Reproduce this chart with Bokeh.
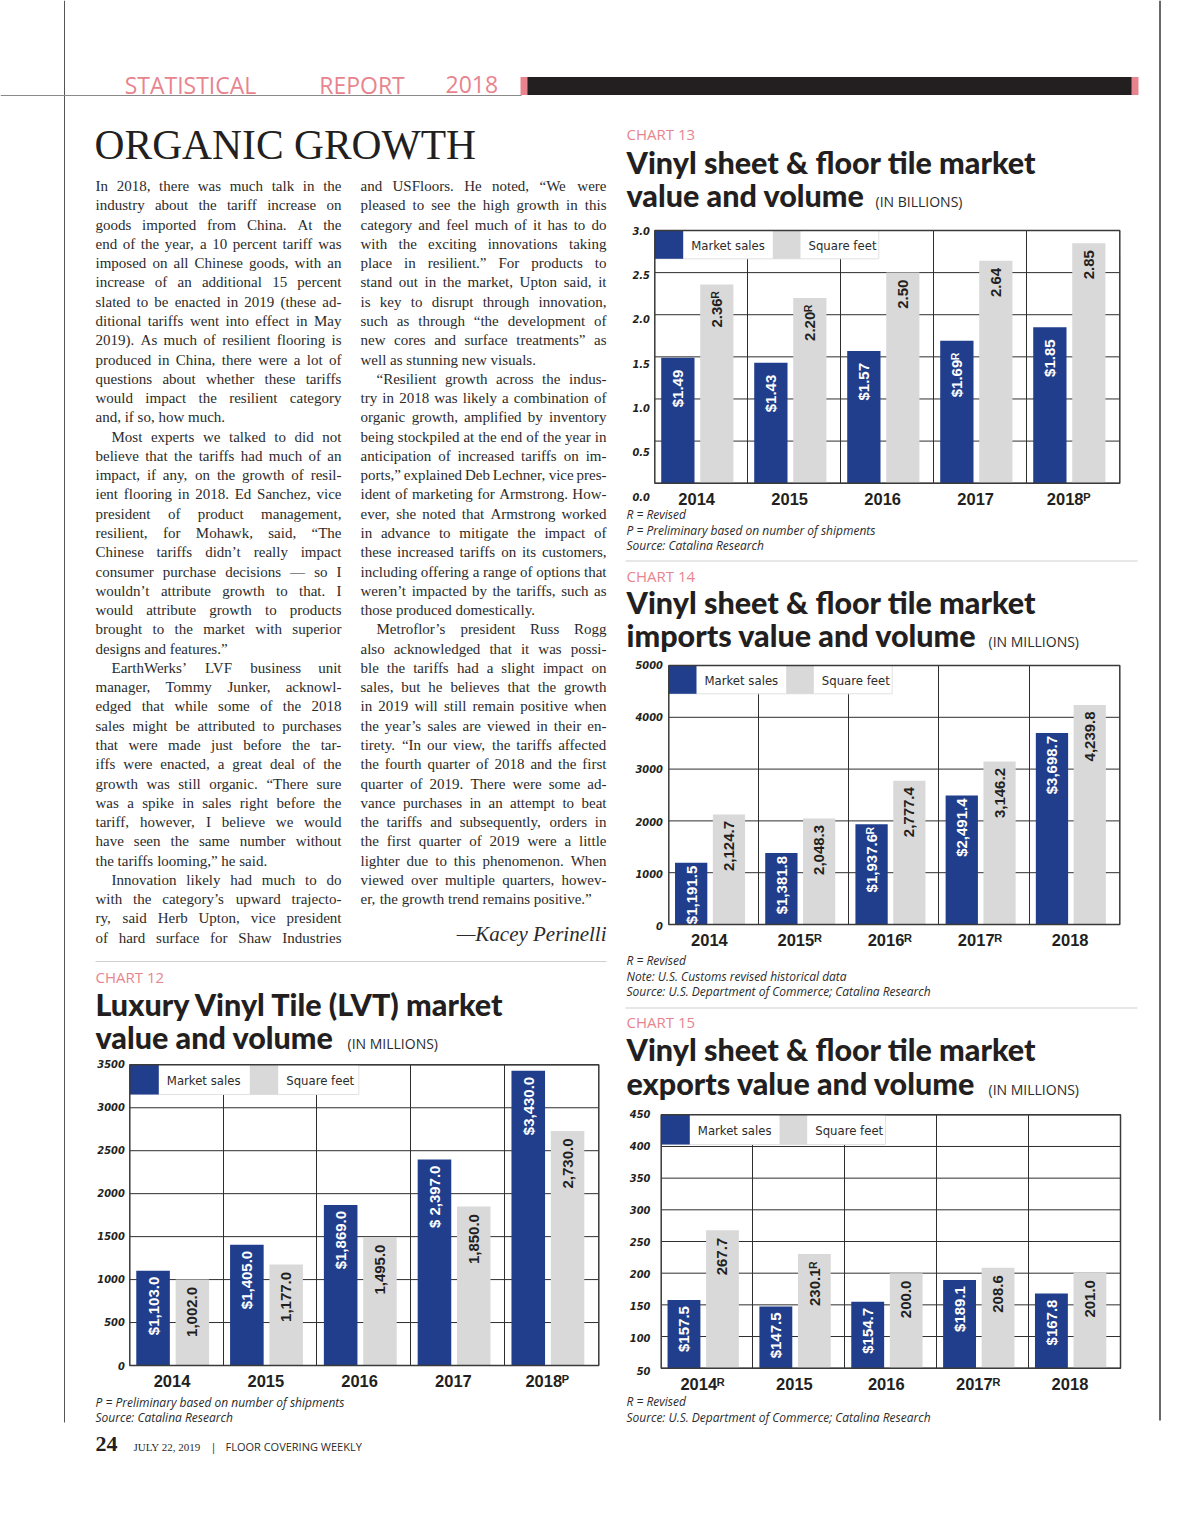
import numpy as np
from bokeh.plotting import figure
from bokeh.models import Range1d, ColumnDataSource
from bokeh.core.properties import value
from bokeh.embed import file_html
from bokeh.resources import INLINE

# ---------------------------------------------------------------- data
years12 = ["2014", "2015", "2016", "2017", "2018\u1d3e"]
sales12 = [1103.0, 1405.0, 1869.0, 2397.0, 3430.0]
sqft12 = [1002.0, 1177.0, 1495.0, 1850.0, 2730.0]
sales12_lbl = ["$1,103.0", "$1,405.0", "$1,869.0", "$ 2,397.0", "$3,430.0"]
sqft12_lbl = ["1,002.0", "1,177.0", "1,495.0", "1,850.0", "2,730.0"]
ticks12 = [0, 500, 1000, 1500, 2000, 2500, 3000, 3500]
ticks12_lbl = ["0", "500", "1000", "1500", "2000", "2500", "3000", "3500"]

years13 = ["2014", "2015", "2016", "2017", "2018\u1d3e"]
sales13 = [1.49, 1.43, 1.57, 1.69, 1.85]
sqft13 = [2.36, 2.20, 2.50, 2.64, 2.85]
sales13_lbl = ["$1.49", "$1.43", "$1.57", "$1.69\u1d3f", "$1.85"]
sqft13_lbl = ["2.36\u1d3f", "2.20\u1d3f", "2.50", "2.64", "2.85"]
ticks13 = [0.0, 0.5, 1.0, 1.5, 2.0, 2.5, 3.0]
ticks13_lbl = ["0.0", "0.5", "1.0", "1.5", "2.0", "2.5", "3.0"]

years14 = ["2014", "2015\u1d3f", "2016\u1d3f", "2017\u1d3f", "2018"]
sales14 = [1191.5, 1381.8, 1937.6, 2491.4, 3698.7]
sqft14 = [2124.7, 2048.3, 2777.4, 3146.2, 4239.8]
sales14_lbl = ["$1,191.5", "$1,381.8", "$1,937.6\u1d3f", "$2,491.4", "$3,698.7"]
sqft14_lbl = ["2,124.7", "2,048.3", "2,777.4", "3,146.2", "4,239.8"]
ticks14 = [0, 1000, 2000, 3000, 4000, 5000]
ticks14_lbl = ["0", "1000", "2000", "3000", "4000", "5000"]

years15 = ["2014\u1d3f", "2015", "2016", "2017\u1d3f", "2018"]
sales15 = [157.5, 147.5, 154.7, 189.1, 167.8]
sqft15 = [267.7, 230.1, 200.0, 208.6, 201.0]
sales15_lbl = ["$157.5", "$147.5", "$154.7", "$189.1", "$167.8"]
sqft15_lbl = ["267.7", "230.1\u1d3f", "200.0", "208.6", "201.0"]
ticks15 = [50, 100, 150, 200, 250, 300, 350, 400, 450]
ticks15_lbl = ["50", "100", "150", "200", "250", "300", "350", "400", "450"]

legend_labels = ["Market sales", "Square feet"]

col1_lines = [
    "In 2018, there was much talk in the",
    "industry about the tariff increase on",
    "goods imported from China. At the",
    "end of the year, a 10 percent tariff was",
    "imposed on all Chinese goods, with an",
    "increase of an additional 15 percent",
    "slated to be enacted in 2019 (these ad-",
    "ditional tariffs went into effect in May",
    "2019). As much of resilient flooring is",
    "produced in China, there were a lot of",
    "questions about whether these tariffs",
    "would impact the resilient category",
    "and, if so, how much.",
    "Most experts we talked to did not",
    "believe that the tariffs had much of an",
    "impact, if any, on the growth of resil-",
    "ient flooring in 2018. Ed Sanchez, vice",
    "president of product management,",
    "resilient, for Mohawk, said, \u201cThe",
    "Chinese tariffs didn\u2019t really impact",
    "consumer purchase decisions \u2014 so I",
    "wouldn\u2019t attribute growth to that. I",
    "would attribute growth to products",
    "brought to the market with superior",
    "designs and features.\u201d",
    "EarthWerks\u2019 LVF business unit",
    "manager, Tommy Junker, acknowl-",
    "edged that while some of the 2018",
    "sales might be attributed to purchases",
    "that were made just before the tar-",
    "iffs were enacted, a great deal of the",
    "growth was still organic. \u201cThere sure",
    "was a spike in sales right before the",
    "tariff, however, I believe we would",
    "have seen the same number without",
    "the tariffs looming,\u201d he said.",
    "Innovation likely had much to do",
    "with the category\u2019s upward trajecto-",
    "ry, said Herb Upton, vice president",
    "of hard surface for Shaw Industries",
]
col1_indent = {14, 26, 37}
col1_last = {13, 25, 36}

col2_lines = [
    "and USFloors. He noted, \u201cWe were",
    "pleased to see the high growth in this",
    "category and feel much of it has to do",
    "with the exciting innovations taking",
    "place in resilient.\u201d For products to",
    "stand out in the market, Upton said, it",
    "is key to disrupt through innovation,",
    "such as through \u201cthe development of",
    "new cores and surface treatments\u201d as",
    "well as stunning new visuals.",
    "\u201cResilient growth across the indus-",
    "try in 2018 was likely a combination of",
    "organic growth, amplified by inventory",
    "being stockpiled at the end of the year in",
    "anticipation of increased tariffs on im-",
    "ports,\u201d explained Deb Lechner, vice pres-",
    "ident of marketing for Armstrong. How-",
    "ever, she noted that Armstrong worked",
    "in advance to mitigate the impact of",
    "these increased tariffs on its customers,",
    "including offering a range of options that",
    "weren\u2019t impacted by the tariffs, such as",
    "those produced domestically.",
    "Metroflor\u2019s president Russ Rogg",
    "also acknowledged that it was possi-",
    "ble the tariffs had a slight impact on",
    "sales, but he believes that the growth",
    "in 2019 will still remain positive when",
    "the year\u2019s sales are viewed in their en-",
    "tirety. \u201cIn our view, the tariffs affected",
    "the fourth quarter of 2018 and the first",
    "quarter of 2019. There were some ad-",
    "vance purchases in an attempt to beat",
    "the tariffs and subsequently, orders in",
    "the first quarter of 2019 were a little",
    "lighter due to this phenomenon. When",
    "viewed over multiple quarters, howev-",
    "er, the growth trend remains positive.\u201d",
]
col2_indent = {11, 24}
col2_last = {10, 23, 38}

# ---------------------------------------------------------------- style
BLUE = "#203e8c"
GREY = "#d9d9d9"
GRID = "#2e2e2e"
INK = "#231f20"
TEXT = "#2b2b2b"
PINK = "#e8848e"

COND = "'DejaVu Sans Condensed', sans-serif"
BOLDF = "'Liberation Sans', Arial, sans-serif"
TITLEF = "'Lato Black', Lato, sans-serif"
SANS = "'Open Sans', sans-serif"
SERIF = "'Liberation Serif', serif"
# distance (in em) from alphabetic baseline up to the middle of the font box
MID = {SERIF: 0.3375, TITLEF: 0.387, SANS: 0.388, BOLDF: 0.347, COND: 0.35}

W, H = 1184, 1500
p = figure(width=W, height=H, x_range=Range1d(0, W), y_range=Range1d(H, 0),
           output_backend="svg", toolbar_location=None, x_axis_type=None, y_axis_type=None,
           min_border=0, background_fill_color="white", border_fill_color="white")
p.outline_line_color = None


def ptext(x, base, t, size, font, color=TEXT, style="normal", align="left"):
    """Place text whose alphabetic baseline is at `base`."""
    p.text(x=[x], y=[base - MID[font] * size], text=[t], text_font=value(font),
           text_font_size=f"{size}px", text_font_style=style, text_color=color,
           text_align=align, text_baseline="middle")


def mtext(x, y, t, size, font, color=TEXT, style="normal", align="left"):
    """Place text whose middle is at `y`."""
    p.text(x=[x], y=[y], text=[t], text_font=value(font), text_font_size=f"{size}px",
           text_font_style=style, text_color=color, text_align=align, text_baseline="middle")


# ---------------------------------------------------------------- page furniture
p.segment(x0=[64], x1=[64], y0=[0], y1=[1422], line_color="#555555", line_width=1)
p.segment(x0=[1159.5], x1=[1159.5], y0=[0], y1=[1420], line_color="#6a6a6a", line_width=2)
p.segment(x0=[0], x1=[521], y0=[95], y1=[95], line_color="#8a8a8a", line_width=1)
p.quad(left=[520], right=[1138], top=[76.5], bottom=[94.5], fill_color=PINK, line_color=None)
p.quad(left=[527], right=[1131], top=[76.5], bottom=[94.5], fill_color=INK, line_color=None)
for word, cx in [("STATISTICAL", 190), ("REPORT", 361.5), ("2018", 471.3)]:
    ptext(cx, 93, word, 23, SANS, color=PINK, align="center")

p.segment(x0=[625, 625, 95], x1=[1137, 1137, 606], y0=[560.5, 1007.5, 961], y1=[560.5, 1007.5, 961],
          line_color="#cfcfcf", line_width=1)

ptext(94, 159, "ORGANIC GROWTH", 41.5, SERIF, color=INK)

# ---------------------------------------------------------------- body text (justified)
TW = {}
for ch, w in zip("abcdefghijklmnopqrstuvwxyz",
                 [.444, .5, .444, .5, .444, .333, .5, .5, .278, .278, .5, .278, .778, .5, .5, .5, .5,
                  .333, .389, .278, .5, .5, .722, .5, .5, .444]):
    TW[ch] = w
for ch, w in zip("ABCDEFGHIJKLMNOPQRSTUVWXYZ",
                 [.722, .667, .667, .722, .611, .556, .722, .722, .333, .389, .722, .611, .889, .722,
                  .722, .556, .722, .667, .556, .611, .722, .722, .944, .722, .722, .611]):
    TW[ch] = w
for ch in "0123456789":
    TW[ch] = .5
TW.update({",": .25, ".": .25, "-": .333, ":": .278, ";": .278, "(": .333, ")": .333,
           "\u2019": .333, "\u2018": .333, "\u201c": .444, "\u201d": .444, "\u2014": 1.0})

BODY = 15.0


def wwidth(w):
    return sum(TW.get(c, .5) for c in w) * BODY


words_x, words_y, words_t = [], [], []


def set_column(lines, indent, last, x0, x1):
    for i, line in enumerate(lines, start=1):
        base = 190.7 + (i - 1) * 19.27
        left = x0 + (16 if i in indent else 0)
        ws = line.split(" ")
        widths = [wwidth(w) for w in ws]
        if i in last or len(ws) == 1:
            gap = 0.25 * BODY
        else:
            gap = max(2.0, (x1 - left - sum(widths)) / (len(ws) - 1))
        x = left
        for w, wd in zip(ws, widths):
            words_x.append(x)
            words_y.append(base - MID[SERIF] * BODY)
            words_t.append(w)
            x += wd + gap


set_column(col1_lines, col1_indent, col1_last, 95, 341)
set_column(col2_lines, col2_indent, col2_last, 360, 606)
p.text(x="x", y="y", text="t", source=ColumnDataSource(dict(x=words_x, y=words_y, t=words_t)),
       text_font=value(SERIF), text_font_size=f"{BODY}px", text_color=TEXT,
       text_align="left", text_baseline="middle")
ptext(606, 941, "\u2014Kacey Perinelli", 21, SERIF, color=TEXT, style="italic", align="right")

# footer
ptext(95, 1451, "24", 22, SERIF, color=INK, style="bold")
ptext(133, 1450, "JULY 22, 2019", 11, SERIF, color=TEXT)
ptext(213, 1450, "|", 11, SANS, color=TEXT, align="center")
ptext(225, 1450, "FLOOR COVERING WEEKLY", 11, SANS, color=TEXT)


# ---------------------------------------------------------------- charts
def chart(cfg, cats, sales, sqft, sales_lbl, sqft_lbl, ticks, tick_lbl):
    L, R, T, B = cfg["frame"]
    y0, y1 = cfg["yrange"]
    n = len(cats)
    idx = np.arange(n)
    tx = cfg["tx"]

    # headings
    ptext(tx, cfg["head_y"][0], cfg["label"], 15, SANS, color=PINK)
    ptext(tx, cfg["head_y"][1], cfg["title"][0], 30.5, TITLEF, color=INK, style="bold")
    ptext(tx, cfg["head_y"][2], cfg["title"][1], 30.5, TITLEF, color=INK, style="bold")
    ptext(cfg["unit_x"], cfg["head_y"][2], cfg["unit"], 14, SANS, color=TEXT)

    sub = p.subplot(x_source=Range1d(0, n), y_source=Range1d(y0, y1),
                    x_target=Range1d(L, R), y_target=Range1d(B, T))
    sub.segment(x0=[0] * len(ticks), x1=[n] * len(ticks), y0=ticks, y1=ticks,
                line_color=GRID, line_width=1)
    sub.segment(x0=idx[1:], x1=idx[1:], y0=[y0] * (n - 1), y1=[y1] * (n - 1),
                line_color=GRID, line_width=1)
    sub.vbar(x=idx + 0.248, width=0.358, bottom=y0, top=sales, fill_color=BLUE, line_color=None)
    sub.vbar(x=idx + 0.667, width=0.357, bottom=y0, top=sqft, fill_color=GREY, line_color=None)

    # legend
    lh = cfg["leg_h"]
    xs = np.cumsum([0] + cfg["leg_w"]) + L
    p.quad(left=[xs[0]], right=[xs[4]], top=[T], bottom=[T + lh], fill_color="white",
           line_color="#e2e2e2", line_width=1)
    p.quad(left=[xs[0], xs[2]], right=[xs[1], xs[3]], top=[T, T], bottom=[T + lh, T + lh],
           fill_color=[BLUE, GREY], line_color=None)
    p.text(x=[xs[1] + 8, xs[3] + 8], y=[T + lh / 2 + 1] * 2, text=legend_labels,
           text_font=value(COND), text_font_size="13px", text_color=TEXT,
           text_align="left", text_baseline="middle")

    sub.quad(left=[0], right=[n], bottom=[y0], top=[y1], fill_color=None,
             line_color="#3a3a3a", line_width=1.5)

    # value labels (rotated, inside bars)
    gb, gg = cfg["gap"]
    sub.text(x=idx + 0.248, y=sales, text=sales_lbl, angle=np.pi / 2, y_offset=gb,
             text_align="right", text_baseline="middle", text_font=value(BOLDF),
             text_font_size="15px", text_font_style="bold", text_color="white")
    sub.text(x=idx + 0.667, y=sqft, text=sqft_lbl, angle=np.pi / 2, y_offset=gg,
             text_align="right", text_baseline="middle", text_font=value(BOLDF),
             text_font_size="15px", text_font_style="bold", text_color=INK)

    # category labels
    sub.text(x=idx + 0.45, y=[y0] * n, text=cats, y_offset=15.7, text_align="center",
             text_baseline="middle", text_font=value(BOLDF), text_font_size="16.5px",
             text_font_style="bold", text_color=INK)

    # y tick labels
    lb, lt = cfg["lbl_target"]
    subl = p.subplot(x_source=Range1d(0, n), y_source=Range1d(y0, y1),
                     x_target=Range1d(L, R), y_target=Range1d(lb, lt))
    subl.text(x=[0] * len(ticks), y=ticks, text=tick_lbl, x_offset=cfg["lbl_right"] - L,
              text_align="right", text_baseline="middle", text_font=value(COND),
              text_font_size="11px", text_font_style="bold italic", text_color=INK)

    # notes
    for ny, nt in zip(cfg["notes_y"], cfg["notes"]):
        mtext(tx, ny, nt, 12, SANS, color=TEXT, style="italic")


cfg13 = dict(frame=(654.3, 1119.3, 230.0, 482.7), yrange=(0.0, 3.0), lbl_target=(496.0, 230.0),
             lbl_right=649.5, leg_h=28.3, leg_w=[28.4, 89.6, 27.7, 78.3], gap=(12, 7), tx=626,
             head_y=(139.3, 173.3, 206.0), label="CHART 13",
             title=("Vinyl sheet & floor tile market", "value and volume"),
             unit="(IN BILLIONS)", unit_x=875,
             notes_y=(514, 529.5, 545),
             notes=("R = Revised", "P = Preliminary based on number of shipments",
                    "Source: Catalina Research"))
cfg14 = dict(frame=(668.3, 1119.3, 665.0, 924.0), yrange=(0, 5000), lbl_target=(925.7, 664.3),
             lbl_right=662.5, leg_h=28.3, leg_w=[27.7, 89.7, 27.6, 78.4], gap=(3, 6.5), tx=626,
             head_y=(581.0, 613.3, 646.0), label="CHART 14",
             title=("Vinyl sheet & floor tile market", "imports value and volume"),
             unit="(IN MILLIONS)", unit_x=988,
             notes_y=(959.5, 975.7, 991.0),
             notes=("R = Revised", "Note: U.S. Customs revised historical data",
                    "Source: U.S. Department of Commerce; Catalina Research"))
cfg15 = dict(frame=(660.7, 1120.0, 1114.3, 1367.7), yrange=(50, 450), lbl_target=(1370.0, 1113.3),
             lbl_right=650.0, leg_h=29.7, leg_w=[28.6, 89.7, 27.7, 78.3], gap=(6, 7.5), tx=626,
             head_y=(1027.5, 1060.0, 1094.3), label="CHART 15",
             title=("Vinyl sheet & floor tile market", "exports value and volume"),
             unit="(IN MILLIONS)", unit_x=988,
             notes_y=(1401.0, 1417.3),
             notes=("R = Revised", "Source: U.S. Department of Commerce; Catalina Research"))
cfg12 = dict(frame=(129.3, 598.3, 1064.3, 1365.0), yrange=(0, 3500), lbl_target=(1365.0, 1063.3),
             lbl_right=124.3, leg_h=29.7, leg_w=[29.0, 91.0, 28.4, 80.6], gap=(6, 7.5), tx=95,
             head_y=(982.5, 1015.0, 1048.3), label="CHART 12",
             title=("Luxury Vinyl Tile (LVT) market", "value and volume"),
             unit="(IN MILLIONS)", unit_x=347,
             notes_y=(1401.7, 1416.7),
             notes=("P = Preliminary based on number of shipments", "Source: Catalina Research"))

chart(cfg13, years13, sales13, sqft13, sales13_lbl, sqft13_lbl, ticks13, ticks13_lbl)
chart(cfg14, years14, sales14, sqft14, sales14_lbl, sqft14_lbl, ticks14, ticks14_lbl)
chart(cfg15, years15, sales15, sqft15, sales15_lbl, sqft15_lbl, ticks15, ticks15_lbl)
chart(cfg12, years12, sales12, sqft12, sales12_lbl, sqft12_lbl, ticks12, ticks12_lbl)

open("out.html", "w").write(file_html(p, INLINE, title="Statistical Report 2018"))
